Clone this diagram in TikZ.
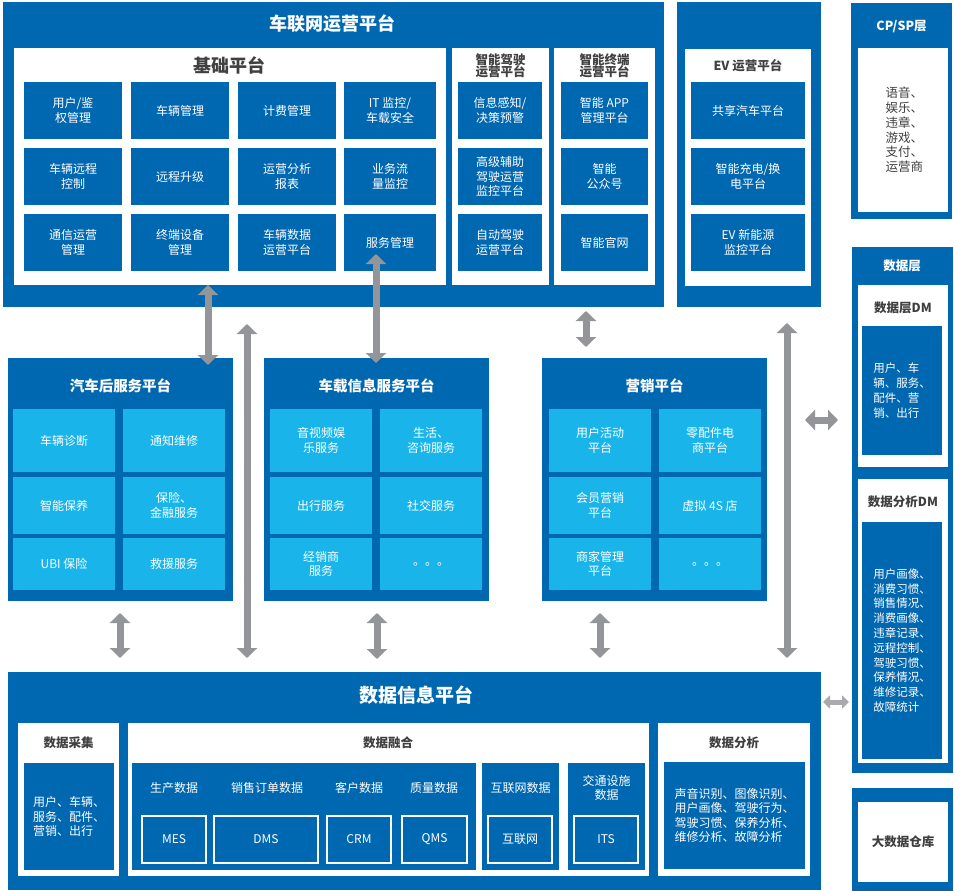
\documentclass[tikz,border=0pt]{standalone}
\usepackage{fontspec}
\setmainfont{Noto Sans CJK SC}
\usetikzlibrary{arrows.meta}
\definecolor{dblue}{RGB}{0,103,177}
\definecolor{lblue}{RGB}{25,181,234}
\definecolor{agray}{RGB}{148,149,153}
\definecolor{tgray}{RGB}{64,64,64}

\tikzset{
  panel/.style={fill=dblue, inner sep=0pt},
  sheet/.style={fill=white, inner sep=0pt},
  cell/.style={fill=dblue, text=white, inner sep=0pt, align=center, font=\fontsize{12}{14.5}\selectfont},
  lcell/.style={cell, fill=lblue, minimum width=102pt},
  bcell/.style={cell, minimum width=98pt, minimum height=57pt},
  frame/.style={draw=white, line width=2pt, fill=dblue, text=white, inner sep=0pt, minimum height=47pt, font=\fontsize{12}{14.5}\selectfont},
  bigtitle/.style={text=white, font=\bfseries\fontsize{18}{20}\selectfont},
  midtitle/.style={text=white, font=\bfseries\fontsize{14.5}{16}\selectfont},
  wtitle/.style={text=white, align=center, font=\bfseries\fontsize{12.5}{13}\selectfont},
  dtitle/.style={text=tgray, align=center, font=\bfseries\fontsize{12.5}{12.5}\selectfont},
  wlabel/.style={text=white, align=center, font=\fontsize{12}{14.5}\selectfont},
  fat/.style={draw=agray, line width=7pt, {Triangle[width=20pt,length=10pt]}-{Triangle[width=20pt,length=10pt]}},
}

\begin{document}
\begin{tikzpicture}[x=1pt,y=-1pt]
    \useasboundingbox (0,0) rectangle (954,891);

    % top platform
    \node[panel, minimum width=661pt, minimum height=305pt] (top) at (333.5,154.5) {};
    \node[bigtitle] (toptitle) at (332,24) {车联网运营平台};

    \node[sheet, minimum width=432pt, minimum height=237pt] (base) at (230,166.5) {};
    \node[dtitle, font=\bfseries\fontsize{18}{20}\selectfont] (basetitle) at (229,65) {基础平台};
    \node[bcell] (b11) at (73,110.5) {用户/鉴\\权管理};
    \node[bcell] (b12) at (180,110.5) {车辆管理};
    \node[bcell] (b13) at (287,110.5) {计费管理};
    \node[bcell, minimum width=92pt] (b14) at (390,110.5) {IT 监控/\\车载安全};
    \node[bcell] (b21) at (73,176.5) {车辆远程\\控制};
    \node[bcell] (b22) at (180,176.5) {远程升级};
    \node[bcell] (b23) at (287,176.5) {运营分析\\报表};
    \node[bcell, minimum width=92pt] (b24) at (390,176.5) {业务流\\量监控};
    \node[bcell] (b31) at (73,242.5) {通信运营\\管理};
    \node[bcell] (b32) at (180,242.5) {终端设备\\管理};
    \node[bcell] (b33) at (287,242.5) {车辆数据\\运营平台};
    \node[bcell, minimum width=92pt] (b34) at (390,242.5) {服务管理};

    \node[sheet, minimum width=97pt, minimum height=237pt] (adas) at (500.5,166.5) {};
    \node[dtitle] (adastitle) at (500.5,66) {智能驾驶\\运营平台};
    \node[bcell, minimum width=84pt] (d1) at (500,110.5) {信息感知/\\决策预警};
    \node[bcell, minimum width=84pt] (d2) at (500,176.5) {高级辅助\\驾驶运营\\监控平台};
    \node[bcell, minimum width=84pt] (d3) at (500,242.5) {自动驾驶\\运营平台};

    \node[sheet, minimum width=101pt, minimum height=237pt] (term) at (604.5,166.5) {};
    \node[dtitle] (termtitle) at (604.5,66) {智能终端\\运营平台};
    \node[bcell, minimum width=87pt] (t1) at (604.5,110.5) {智能 APP\\管理平台};
    \node[bcell, minimum width=87pt] (t2) at (604.5,176.5) {智能\\公众号};
    \node[bcell, minimum width=87pt] (t3) at (604.5,242.5) {智能官网};

    % EV
    \node[panel, minimum width=144pt, minimum height=305pt] (ev) at (749,154.5) {};
    \node[sheet, minimum width=126pt, minimum height=237pt] (evin) at (748,167.5) {};
    \node[dtitle] (evtitle) at (748,66) {EV 运营平台};
    \node[bcell, minimum width=114pt] (e1) at (748,110.5) {共享汽车平台};
    \node[bcell, minimum width=114pt] (e2) at (748,176.5) {智能充电/换\\电平台};
    \node[bcell, minimum width=114pt] (e3) at (748,242.5) {EV 新能源\\监控平台};

    % right column
    \node[panel, minimum width=101pt, minimum height=216pt] (cpsp) at (901.5,111) {};
    \node[wtitle] (cpsptitle) at (901.5,27) {CP/SP层};
    \node[sheet, minimum width=90pt, minimum height=164pt] (cpspin) at (903,130) {};
    \node[text=tgray, align=left, anchor=west, font=\fontsize{12.5}{14.8}\selectfont] (cpsptext) at (882,130) {语音、\\娱乐、\\违章、\\游戏、\\支付、\\运营商};

    \node[panel, minimum width=101pt, minimum height=526pt] (dl) at (902.5,510) {};
    \node[wtitle] (dltitle) at (902,266) {数据层};
    \node[sheet, minimum width=90pt, minimum height=182pt] (dldm) at (903,376) {};
    \node[dtitle] (dldmtitle) at (903,308) {数据层DM};
    \node[panel, text=white, align=left, minimum width=80pt, minimum height=129pt, font=\fontsize{11.5}{15}\selectfont] (dldmin) at (902,390.5) {用户、车\\辆、服务、\\配件、营\\销、出行};
    \node[sheet, minimum width=90pt, minimum height=284pt] (dadm) at (903,621) {};
    \node[dtitle] (dadmtitle) at (903,502) {数据分析DM};
    \node[panel, text=white, align=left, minimum width=80pt, minimum height=237pt, font=\fontsize{11.5}{14.8}\selectfont] (dadmin) at (902,640.5) {用户画像、\\消费习惯、\\销售情况、\\消费画像、\\违章记录、\\远程控制、\\驾驶习惯、\\保养情况、\\维修记录、\\故障统计};

    \node[panel, minimum width=101pt, minimum height=103pt] (dw) at (902.5,839.5) {};
    \node[sheet, text=tgray, minimum width=90pt, minimum height=80pt, font=\bfseries\fontsize{12.5}{13}\selectfont] (dwin) at (903,842) {大数据仓库};

    % middle row
    \node[panel, minimum width=225pt, minimum height=243pt] (aft) at (120.5,479.5) {};
    \node[midtitle] (afttitle) at (120.5,386) {汽车后服务平台};
    \node[lcell, minimum height=63pt] (a11) at (64,440.5) {车辆诊断};
    \node[lcell, minimum height=63pt] (a12) at (174,440.5) {通知维修};
    \node[lcell, minimum height=57pt] (a21) at (64,505.5) {智能保养};
    \node[lcell, minimum height=57pt] (a22) at (174,505.5) {保险、\\金融服务};
    \node[lcell, minimum height=52pt] (a31) at (64,564) {UBI 保险};
    \node[lcell, minimum height=52pt] (a32) at (174,564) {救援服务};

    \node[panel, minimum width=225pt, minimum height=243pt] (ivi) at (376.5,479.5) {};
    \node[midtitle] (ivititle) at (376.5,386) {车载信息服务平台};
    \node[lcell, minimum height=63pt] (v11) at (321,440.5) {音视频娱\\乐服务};
    \node[lcell, minimum height=63pt] (v12) at (431,440.5) {生活、\\咨询服务};
    \node[lcell, minimum height=57pt] (v21) at (321,505.5) {出行服务};
    \node[lcell, minimum height=57pt] (v22) at (431,505.5) {社交服务};
    \node[lcell, minimum height=52pt] (v31) at (321,564) {经销商\\服务};
    \node[lcell, minimum height=52pt] (v32) at (431,564) {。。。};

    \node[panel, minimum width=225pt, minimum height=243pt] (mkt) at (654.5,479.5) {};
    \node[midtitle] (mkttitle) at (654.5,386) {营销平台};
    \node[lcell, minimum height=63pt] (m11) at (600,440.5) {用户活动\\平台};
    \node[lcell, minimum height=63pt] (m12) at (710,440.5) {零配件电\\商平台};
    \node[lcell, minimum height=57pt] (m21) at (600,505.5) {会员营销\\平台};
    \node[lcell, minimum height=57pt] (m22) at (710,505.5) {虚拟 4S 店};
    \node[lcell, minimum height=52pt] (m31) at (600,564) {商家管理\\平台};
    \node[lcell, minimum height=52pt] (m32) at (710,564) {。。。};

    % bottom platform
    \node[panel, minimum width=813pt, minimum height=218pt] (dip) at (414.5,781) {};
    \node[bigtitle, font=\bfseries\fontsize{19}{21}\selectfont] (diptitle) at (416,695) {数据信息平台};

    \node[sheet, minimum width=101pt, minimum height=153pt] (col) at (68.5,799.5) {};
    \node[dtitle] (coltitle) at (68.5,743) {数据采集};
    \node[cell, align=left, minimum width=90pt, minimum height=107pt] (colin) at (69,816.5) {用户、车辆、\\服务、配件、\\营销、出行};

    \node[sheet, minimum width=521pt, minimum height=153pt] (fus) at (388.5,799.5) {};
    \node[dtitle] (fustitle) at (388,743) {数据融合};
    \node[panel, minimum width=344pt, minimum height=107pt] (fusa) at (304,816.5) {};
    \node[panel, minimum width=77pt, minimum height=107pt] (fusb) at (520.5,816.5) {};
    \node[panel, minimum width=77pt, minimum height=107pt] (fusc) at (606.5,816.5) {};
    \node[wlabel] (mestitle) at (174,788) {生产数据};
    \node[wlabel] (dmstitle) at (267,788) {销售订单数据};
    \node[wlabel] (crmtitle) at (359,788) {客户数据};
    \node[wlabel] (qmstitle) at (434,788) {质量数据};
    \node[wlabel] (webtitle) at (520.5,788) {互联网数据};
    \node[wlabel] (itstitle) at (606.5,788) {交通设施\\数据};
    \node[frame, minimum width=64pt] (mes) at (174,839.5) {MES};
    \node[frame, minimum width=104pt] (dms) at (266,839.5) {DMS};
    \node[frame, minimum width=64pt] (crm) at (359,839.5) {CRM};
    \node[frame, minimum width=65pt] (qms) at (434.5,839.5) {QMS};
    \node[frame, minimum width=64pt] (web) at (520,839.5) {互联网};
    \node[frame, minimum width=64pt] (its) at (606,839.5) {ITS};

    \node[sheet, minimum width=152pt, minimum height=153pt] (ana) at (734,799.5) {};
    \node[dtitle] (anatitle) at (734,743) {数据分析};
    \node[cell, align=left, minimum width=141pt, minimum height=107pt] (anain) at (734.5,815.5) {声音识别、图像识别、\\用户画像、驾驶行为、\\驾驶习惯、保养分析、\\维修分析、故障分析};

    % arrows
    \coordinate (a1t) at (208,285);
    \coordinate (a1b) at (208,365);
    \coordinate (a2t) at (376,254);
    \coordinate (a2b) at (376,363);
    \coordinate (a3t) at (247,324);
    \coordinate (a3b) at (247,658);
    \coordinate (a4t) at (120,613);
    \coordinate (a4b) at (120,658);
    \coordinate (a5t) at (377,613);
    \coordinate (a5b) at (377,659);
    \coordinate (a6t) at (586,311);
    \coordinate (a6b) at (586,347);
    \coordinate (a7t) at (600,613);
    \coordinate (a7b) at (600,658);
    \coordinate (a8t) at (787,323);
    \coordinate (a8b) at (787,658);
    \coordinate (a9l) at (805,420);
    \coordinate (a9r) at (838,420);
    \coordinate (a10l) at (823,702);
    \coordinate (a10r) at (849,702);
    \draw[fat] (a1t) -- (a1b);
    \draw[fat] (a2t) -- (a2b);
    \draw[fat] (a3t) -- (a3b);
    \draw[fat] (a4t) -- (a4b);
    \draw[fat] (a5t) -- (a5b);
    \draw[fat] (a6t) -- (a6b);
    \draw[fat] (a7t) -- (a7b);
    \draw[fat] (a8t) -- (a8b);
    \draw[fat] (a9l) -- (a9r);
    \draw[fat, draw=agray!80, line width=5pt, {Triangle[width=13pt,length=7pt]}-{Triangle[width=13pt,length=7pt]}] (a10l) -- (a10r);
\end{tikzpicture}
\end{document}
